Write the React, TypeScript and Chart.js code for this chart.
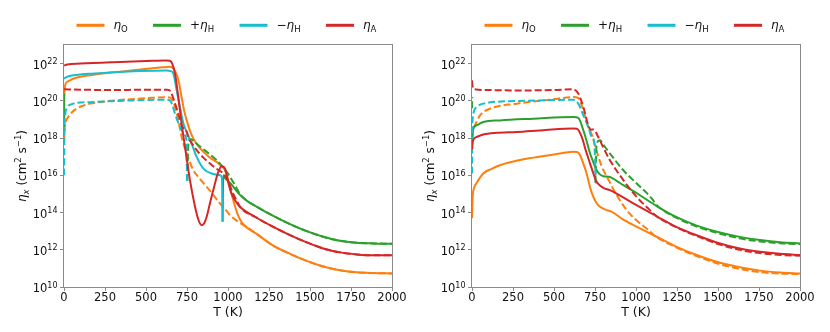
import React, { useEffect, useRef } from 'react';
import { Chart, registerables } from 'chart.js';

Chart.register(...registerables);

// Each point: [T in K, log10(eta in cm^2 s^-1)]; null marks a gap
type Pt = [number, number | null];

// ---------- left panel ----------
const leftOhmicSolid: Pt[] = [
  [0, 20.2], [6, 20.8], [20, 21.02], [40, 21.12], [80, 21.25], [160, 21.38], [260, 21.5], [360, 21.58],
  [480, 21.7], [600, 21.8], [645, 21.83], [668, 21.72], [688, 21.4], [703, 20.9], [717, 20.2], [732, 19.5],
  [748, 18.95], [770, 18.35], [789, 17.97], [820, 17.55], [850, 17.26], [890, 16.95], [931, 16.72], [960, 16.5],
  [980, 16.3], [995, 15.95], [1010, 15.4], [1032, 14.66], [1055, 14.0], [1075, 13.6], [1100, 13.3],
  [1175, 12.85], [1276, 12.22], [1378, 11.78], [1480, 11.4], [1581, 11.1], [1683, 10.9], [1785, 10.79],
  [1886, 10.75], [2000, 10.73],
];
const leftOhmicDashed: Pt[] = [
  [0, 17.8], [4, 18.5], [12, 18.9], [26, 19.13], [50, 19.4], [77, 19.58], [120, 19.75], [160, 19.85],
  [260, 19.98], [362, 20.06], [500, 20.14], [626, 20.2], [648, 20.17], [663, 20.0], [677, 19.67], [697, 18.95],
  [717, 18.06], [748, 17.17], [789, 16.27], [830, 15.8], [870, 15.38], [910, 14.95], [951, 14.49], [990, 14.1],
  [1012, 13.86], [1050, 13.58], [1100, 13.3], [1175, 12.85], [1276, 12.22], [1378, 11.78], [1480, 11.4],
  [1581, 11.1], [1683, 10.9], [1785, 10.79], [1886, 10.75], [2000, 10.73],
];
const leftHallPosSolid: Pt[] = [
  [0, 18.6], [1.5, 20.4], [2, null],
  [967, 13.5], [971, 16.0], [982, 15.85], [1012, 15.6], [1040, 15.3], [1073, 14.95], [1120, 14.6],
  [1175, 14.31], [1276, 13.82], [1378, 13.38], [1480, 13.0], [1581, 12.7], [1683, 12.48], [1785, 12.38],
  [1886, 12.34], [2000, 12.32],
];
const leftHallPosDashed: Pt[] = [
  [752, 15.7], [758, 17.6], [768, 17.97], [789, 17.85], [809, 17.7], [870, 17.26], [931, 16.81], [992, 16.18],
  [1020, 15.8], [1050, 15.35], [1073, 15.0], [1120, 14.6], [1175, 14.31], [1276, 13.82], [1378, 13.38],
  [1480, 13.0], [1581, 12.7], [1683, 12.48], [1785, 12.38], [1886, 12.34], [2000, 12.32],
];
const leftHallNegSolid: Pt[] = [
  [0, 21.2], [20, 21.3], [57, 21.37], [150, 21.45], [260, 21.51], [463, 21.6], [626, 21.63], [650, 21.6],
  [667, 21.46], [687, 20.56], [707, 19.67], [728, 18.78], [748, 18.33], [778, 17.7], [809, 16.99],
  [850, 16.36], [900, 16.1], [951, 16.0], [963, 15.85], [967, 13.5],
];
const leftHallNegDashed: Pt[] = [
  [0, 16.0], [3, 18.5], [8, 19.3], [16, 19.58], [57, 19.85], [150, 19.93], [260, 19.97], [450, 20.03],
  [626, 20.06], [646, 20.03], [660, 19.8], [677, 19.31], [707, 18.6], [738, 18.15], [746, 17.9], [750, 15.65],
];
const leftAmbiSolid: Pt[] = [
  [0, 21.9], [20, 21.95], [100, 22.0], [300, 22.08], [500, 22.14], [620, 22.17], [645, 22.15], [660, 22.0],
  [677, 21.46], [697, 20.2], [717, 18.78], [738, 17.52], [768, 15.74], [799, 14.31], [820, 13.6], [840, 13.32],
  [855, 13.42], [870, 13.77], [890, 14.5], [910, 15.2], [941, 16.18], [961, 16.49], [982, 16.36], [1002, 15.6],
  [1020, 15.05], [1043, 14.66], [1073, 14.31], [1175, 13.72], [1276, 13.23], [1378, 12.79], [1480, 12.4],
  [1581, 12.07], [1683, 11.86], [1785, 11.75], [1886, 11.7], [2000, 11.7],
];
const leftAmbiDashed: Pt[] = [
  [0, 20.62], [100, 20.6], [300, 20.58], [500, 20.6], [630, 20.6], [650, 20.5], [667, 20.12], [697, 19.31],
  [717, 18.69], [730, 18.52], [740, 18.5], [758, 18.06], [809, 17.35], [850, 16.95], [890, 16.63],
  [930, 16.35], [971, 16.1], [1002, 15.65], [1032, 15.0], [1053, 14.65], [1073, 14.31], [1175, 13.72],
  [1276, 13.23], [1378, 12.79], [1480, 12.4], [1581, 12.07], [1683, 11.86], [1785, 11.75], [1886, 11.7],
  [2000, 11.7],
];

// ---------- right panel ----------
const rightOhmicSolid: Pt[] = [
  [0, 13.7], [4, 14.8], [12, 15.3], [29, 15.6], [69, 16.1], [120, 16.35], [171, 16.54], [270, 16.78],
  [374, 16.95], [500, 17.12], [618, 17.26], [640, 17.25], [659, 17.08], [680, 16.6], [699, 16.1], [720, 15.35],
  [740, 14.84], [760, 14.5], [780, 14.31], [821, 14.13], [850, 14.05], [870, 13.95], [923, 13.62],
  [1024, 13.15], [1126, 12.7], [1248, 12.16], [1370, 11.72], [1512, 11.3], [1640, 11.05], [1756, 10.88],
  [1880, 10.78], [2000, 10.73],
];
const rightOhmicDashed: Pt[] = [
  [0, 17.5], [6, 18.4], [18, 18.69], [49, 19.22], [110, 19.58], [272, 19.85], [476, 20.06], [618, 20.2],
  [648, 20.15], [679, 19.49], [709, 18.6], [730, 18.2], [760, 17.3], [790, 16.5], [830, 15.8], [862, 15.25],
  [943, 14.13], [1024, 13.42], [1085, 13.0], [1110, 12.78], [1248, 12.12], [1370, 11.66], [1512, 11.22],
  [1640, 10.96], [1756, 10.8], [1880, 10.72], [2000, 10.7],
];
const rightHallPosSolid: Pt[] = [
  [0, 17.9], [5, 18.42], [29, 18.69], [69, 18.86], [171, 18.95], [374, 19.04], [618, 19.13], [648, 19.08],
  [679, 18.42], [700, 17.8], [720, 17.17], [740, 16.7], [760, 16.27], [780, 16.05], [801, 15.95], [841, 15.91],
  [882, 15.7], [923, 15.47], [1024, 14.93], [1126, 14.35], [1248, 13.75], [1370, 13.3], [1512, 12.93],
  [1640, 12.68], [1756, 12.52], [1880, 12.4], [2000, 12.34],
];
const rightHallPosDashed: Pt[] = [
  [0, 19.6], [1, 20.2], [1.5, null],
  [752, 15.6], [760, 17.7], [780, 17.88], [800, 17.65], [841, 17.17], [923, 16.27], [1004, 15.56],
  [1096, 14.76], [1126, 14.4], [1248, 13.72], [1370, 13.25], [1512, 12.86], [1640, 12.6], [1756, 12.45],
  [1880, 12.35], [2000, 12.3],
];
const rightHallNegDashed: Pt[] = [
  [0, 16.1], [2, 18.5], [5, 19.13], [29, 19.67], [69, 19.85], [272, 19.99], [450, 20.03], [618, 20.06],
  [648, 19.85], [679, 19.22], [709, 18.6], [730, 18.06], [745, 17.8], [756, 15.56],
];
const rightAmbiSolid: Pt[] = [
  [0, 17.4], [5, 17.85], [29, 18.06], [69, 18.19], [150, 18.28], [272, 18.33], [450, 18.44], [618, 18.51],
  [640, 18.5], [669, 18.06], [695, 17.3], [720, 16.63], [740, 16.1], [760, 15.65], [780, 15.45], [801, 15.33],
  [841, 15.2], [882, 15.02], [984, 14.49], [1126, 13.8], [1248, 13.22], [1370, 12.78], [1512, 12.34],
  [1640, 12.05], [1756, 11.89], [1880, 11.78], [2000, 11.72],
];
const rightAmbiDashed: Pt[] = [
  [0, 21.1], [3, 20.8], [15, 20.62], [100, 20.58], [272, 20.56], [500, 20.58], [618, 20.62], [648, 20.39],
  [679, 19.67], [709, 18.69], [725, 18.45], [740, 18.46], [770, 18.06], [800, 17.5], [841, 16.81],
  [923, 15.74], [1004, 14.84], [1085, 14.13], [1126, 13.8], [1248, 13.2], [1370, 12.74], [1512, 12.28],
  [1640, 11.98], [1756, 11.82], [1880, 11.72], [2000, 11.68],
];

// ---------- axes ----------
const X_TICKS = [0, 250, 500, 750, 1000, 1250, 1500, 1750, 2000];
const Y_TICK_EXPONENTS = [10, 12, 14, 16, 18, 20, 22];
const X_MIN = 0;
const X_MAX = 2000;
const Y_MIN_EXP = 10;
const Y_MAX_EXP = 23;

const COLORS = { O: '#ff7f0e', Hp: '#2ca02c', Hn: '#17becf', A: '#d62728' };
const LEGEND_ITEMS = [
  { color: COLORS.O, prefix: '', sub: 'O' },
  { color: COLORS.Hp, prefix: '+', sub: 'H' },
  { color: COLORS.Hn, prefix: '\u2212', sub: 'H' },
  { color: COLORS.A, prefix: '', sub: 'A' },
];

const FONT = '"DejaVu Sans", "Liberation Sans", sans-serif';
const SPINE = '#8a8a8a';
const TEXT = '#111';

type Series = { pts: Pt[]; color: string; dashed: boolean };

// bottom-to-top drawing order
const LEFT_SERIES: Series[] = [
  { pts: leftOhmicSolid, color: COLORS.O, dashed: false },
  { pts: leftOhmicDashed, color: COLORS.O, dashed: true },
  { pts: leftHallPosSolid, color: COLORS.Hp, dashed: false },
  { pts: leftHallPosDashed, color: COLORS.Hp, dashed: true },
  { pts: leftHallNegSolid, color: COLORS.Hn, dashed: false },
  { pts: leftHallNegDashed, color: COLORS.Hn, dashed: true },
  { pts: leftAmbiSolid, color: COLORS.A, dashed: false },
  { pts: leftAmbiDashed, color: COLORS.A, dashed: true },
];
const RIGHT_SERIES: Series[] = [
  { pts: rightOhmicSolid, color: COLORS.O, dashed: false },
  { pts: rightOhmicDashed, color: COLORS.O, dashed: true },
  { pts: rightHallPosSolid, color: COLORS.Hp, dashed: false },
  { pts: rightHallPosDashed, color: COLORS.Hp, dashed: true },
  { pts: rightHallNegDashed, color: COLORS.Hn, dashed: true },
  { pts: rightAmbiSolid, color: COLORS.A, dashed: false },
  { pts: rightAmbiDashed, color: COLORS.A, dashed: true },
];

type Part = { t: string; f: string; dy: number };

function partsWidth(ctx: CanvasRenderingContext2D, parts: Part[]) {
  let w = 0;
  for (const p of parts) {
    ctx.font = p.f;
    w += ctx.measureText(p.t).width;
  }
  return w;
}
function drawParts(ctx: CanvasRenderingContext2D, parts: Part[], x: number, y: number) {
  let cx = x;
  for (const p of parts) {
    ctx.font = p.f;
    ctx.fillText(p.t, cx, y + p.dy);
    cx += ctx.measureText(p.t).width;
  }
}

const decorPlugin = {
  id: 'decor',
  afterDraw(chart: any) {
    const { ctx, chartArea: a } = chart;
    const ys = chart.scales.y;
    ctx.save();
    // frame
    ctx.strokeStyle = SPINE;
    ctx.lineWidth = 1;
    ctx.setLineDash([]);
    ctx.strokeRect(Math.round(a.left) - 0.5, Math.round(a.top) - 0.5, Math.round(a.right - a.left) + 1, Math.round(a.bottom - a.top) + 1);

    ctx.fillStyle = TEXT;
    ctx.textBaseline = 'alphabetic';
    ctx.textAlign = 'left';

    // y tick labels 10^n
    for (const e of Y_TICK_EXPONENTS) {
      const y = ys.getPixelForValue(Math.pow(10, e));
      const parts: Part[] = [
        { t: '10', f: `11.5px ${FONT}`, dy: 5 },
        { t: String(e), f: `8px ${FONT}`, dy: 0.5 },
      ];
      const w = partsWidth(ctx, parts);
      drawParts(ctx, parts, a.left - 6.5 - w, y);
    }

    // y axis title
    const tparts: Part[] = [
      { t: '\u03b7', f: `italic 12px ${FONT}`, dy: 0 },
      { t: 'x', f: `italic 8.5px ${FONT}`, dy: 2.5 },
      { t: ' (cm', f: `12px ${FONT}`, dy: 0 },
      { t: '2', f: `8.5px ${FONT}`, dy: -4.8 },
      { t: ' s', f: `12px ${FONT}`, dy: 0 },
      { t: '\u22121', f: `8.5px ${FONT}`, dy: -4.8 },
      { t: ')', f: `12px ${FONT}`, dy: 0 },
    ];
    const tw = partsWidth(ctx, tparts);
    ctx.save();
    ctx.translate(a.left - 38, (a.top + a.bottom) / 2);
    ctx.rotate(-Math.PI / 2);
    drawParts(ctx, tparts, -tw / 2, 0);
    ctx.restore();

    // x axis title
    ctx.font = `12.5px ${FONT}`;
    ctx.textAlign = 'center';
    ctx.fillText('T (K)', (a.left + a.right) / 2, 316);
    ctx.textAlign = 'left';

    // legend
    const offsets = [12.5, 89, 175.5, 262];
    LEGEND_ITEMS.forEach((it, i) => {
      const x0 = a.left + offsets[i];
      ctx.strokeStyle = it.color;
      ctx.lineWidth = 3;
      ctx.beginPath();
      ctx.moveTo(x0, 25.3);
      ctx.lineTo(x0 + 28, 25.3);
      ctx.stroke();
      ctx.fillStyle = TEXT;
      const parts: Part[] = [];
      if (it.prefix) parts.push({ t: it.prefix, f: `12px ${FONT}`, dy: 0 });
      parts.push({ t: '\u03b7', f: `italic 12px ${FONT}`, dy: 0 });
      parts.push({ t: it.sub, f: `8.5px ${FONT}`, dy: 2.4 });
      drawParts(ctx, parts, x0 + 37, 29.4);
    });
    ctx.restore();
  },
};

function Panel({ series, axisWidth, padRight }: { series: Series[]; axisWidth: number; padRight: number }) {
  const ref = useRef<HTMLCanvasElement>(null);
  useEffect(() => {
    const datasets = series
      .map((s) => ({
        data: s.pts.map(([t, e]) => ({ x: t, y: e === null ? null : Math.pow(10, e) })),
        borderColor: s.color,
        backgroundColor: s.color,
        borderWidth: 2,
        borderDash: s.dashed ? [7, 3] : [],
        pointRadius: 0,
        fill: false,
        spanGaps: false,
        cubicInterpolationMode: 'monotone' as const,
      }))
      .reverse();
    const chart = new Chart(ref.current!, {
      type: 'line',
      data: { datasets },
      options: {
        responsive: false,
        animation: false,
        devicePixelRatio: 1,
        events: [],
        layout: { padding: { top: 45, right: padRight, bottom: 0, left: 0 } },
        plugins: { legend: { display: false }, tooltip: { enabled: false }, title: { display: false } },
        scales: {
          x: {
            type: 'linear',
            min: X_MIN,
            max: X_MAX,
            afterFit: (s: any) => { s.height = 45; },
            afterBuildTicks: (s: any) => { s.ticks = X_TICKS.map((v) => ({ value: v })); },
            grid: { drawOnChartArea: false, drawTicks: true, tickLength: 4, color: SPINE, lineWidth: 1 },
            border: { display: false },
            ticks: {
              autoSkip: false, maxRotation: 0, padding: 0, color: TEXT,
              font: { family: FONT, size: 11.5 },
              callback: (v: any) => String(v),
            },
          },
          y: {
            type: 'logarithmic',
            min: Math.pow(10, Y_MIN_EXP),
            max: Math.pow(10, Y_MAX_EXP),
            afterFit: (s: any) => { s.width = axisWidth; },
            afterBuildTicks: (s: any) => { s.ticks = Y_TICK_EXPONENTS.map((e) => ({ value: Math.pow(10, e) })); },
            grid: { drawOnChartArea: false, drawTicks: true, tickLength: 4, color: SPINE, lineWidth: 1 },
            border: { display: false },
            ticks: { display: false, autoSkip: false },
          },
        },
      },
      plugins: [decorPlugin],
    });
    return () => chart.destroy();
  }, []);
  return <canvas ref={ref} width={415} height={332} style={{ display: 'block', width: 415, height: 332 }} />;
}

export default function App() {
  return (
    <div style={{ position: 'absolute', left: 0, top: 0, width: 830, height: 332, display: 'flex', background: '#fff' }}>
      <Panel series={LEFT_SERIES} axisWidth={64} padRight={23} />
      <Panel series={RIGHT_SERIES} axisWidth={57} padRight={30} />
    </div>
  );
}
